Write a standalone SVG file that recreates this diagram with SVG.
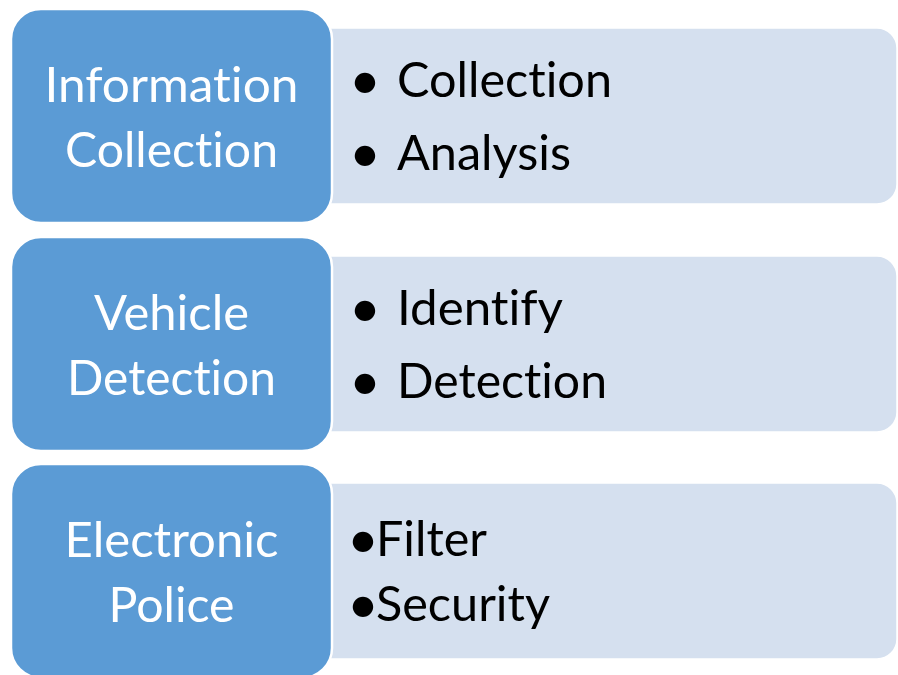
<svg xmlns="http://www.w3.org/2000/svg" width="898" height="675" viewBox="0 0 898 675">
<style>
.side{fill:#D5E0EF;stroke:#FFFFFF;stroke-width:1.5}
.head{fill:#5B9BD5;stroke:#FFFFFF;stroke-width:2.5}
.ht{font-family:Lato,"Open Sans","Liberation Sans",sans-serif;font-size:49px;fill:#FFFFFF;text-anchor:middle;font-variant-ligatures:none}
.bt{font-family:Lato,"Open Sans","Liberation Sans",sans-serif;font-size:49px;fill:#000000;font-variant-ligatures:none}
.bu{font-family:Lato,"Open Sans","Liberation Sans",sans-serif;font-size:55px;fill:#000000}
</style>
<rect width="898" height="675" fill="#FFFFFF"/>
<g id="row1">
<rect class="side" x="300" y="28" width="597" height="176" rx="20"/>
<rect class="head" x="11" y="9" width="321" height="214" rx="30"/>
<text class="ht" x="171.5" y="102" textLength="254" lengthAdjust="spacingAndGlyphs">Information</text>
<text class="ht" x="171.5" y="167" textLength="213" lengthAdjust="spacingAndGlyphs">Collection</text>
<text class="bu" x="349" y="99">•</text>
<text class="bt" x="397" y="97" textLength="215" lengthAdjust="spacingAndGlyphs">Collection</text>
<text class="bu" x="349" y="172">•</text>
<text class="bt" x="397" y="170" textLength="174" lengthAdjust="spacingAndGlyphs">Analysis</text>
</g>
<g id="row2">
<rect class="side" x="300" y="256" width="597" height="176" rx="20"/>
<rect class="head" x="11" y="237" width="321" height="214" rx="30"/>
<text class="ht" x="171.5" y="330" textLength="155" lengthAdjust="spacingAndGlyphs">Vehicle</text>
<text class="ht" x="171.5" y="395" textLength="209" lengthAdjust="spacingAndGlyphs">Detection</text>
<text class="bu" x="349" y="327">•</text>
<text class="bt" x="397" y="325" textLength="166" lengthAdjust="spacingAndGlyphs">Identify</text>
<text class="bu" x="349" y="400">•</text>
<text class="bt" x="397" y="398" textLength="210" lengthAdjust="spacingAndGlyphs">Detection</text>
</g>
<g id="row3">
<rect class="side" x="300" y="483" width="597" height="176" rx="20"/>
<rect class="head" x="11" y="464" width="321" height="214" rx="30"/>
<text class="ht" x="171.5" y="557" textLength="214" lengthAdjust="spacingAndGlyphs">Electronic</text>
<text class="ht" x="171.5" y="622" textLength="126" lengthAdjust="spacingAndGlyphs">Police</text>
<text class="bu" x="347" y="558">•</text>
<text class="bt" x="376" y="556" textLength="111" lengthAdjust="spacingAndGlyphs">Filter</text>
<text class="bu" x="347" y="623">•</text>
<text class="bt" x="376" y="621" textLength="174" lengthAdjust="spacingAndGlyphs">Security</text>
</g>
</svg>
